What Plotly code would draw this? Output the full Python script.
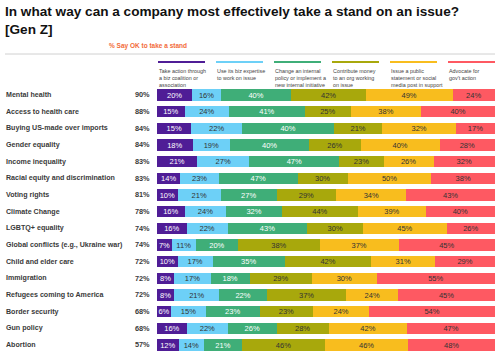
import plotly.graph_objects as go

categories = ["Mental health", "Access to health care", "Buying US-made over imports",
              "Gender equality", "Income inequality", "Racial equity and discrimination",
              "Voting rights", "Climate Change", "LGBTQ+ equality",
              "Global conflicts (e.g., Ukraine war)", "Child and elder care", "Immigration",
              "Refugees coming to America", "Border security", "Gun policy", "Abortion"]
totals = [90, 88, 84, 84, 83, 83, 81, 78, 74, 74, 72, 72, 72, 68, 68, 57]

series_names = ["Take action through<br>a biz coalition or<br>association",
                "Use its biz expertise<br>to work on issue",
                "Change an internal<br>policy or implement a<br>new internal initiative",
                "Contribute money<br>to an org working<br>on issue",
                "Issue a public<br>statement or social<br>media post in support",
                "Advocate for<br>gov't action"]

coalition = [20, 15, 15, 18, 21, 14, 10, 16, 16, 7, 10, 8, 8, 6, 16, 12]
expertise = [16, 24, 22, 19, 27, 23, 21, 24, 22, 11, 17, 17, 21, 15, 22, 14]
internal = [40, 41, 40, 40, 47, 47, 27, 32, 43, 20, 35, 18, 22, 23, 26, 21]
money = [42, 25, 21, 26, 23, 30, 29, 44, 30, 38, 42, 29, 37, 23, 28, 46]
statement = [49, 38, 32, 40, 26, 50, 34, 39, 45, 37, 31, 30, 24, 24, 42, 46]
advocate = [24, 40, 17, 28, 32, 38, 43, 40, 26, 45, 29, 55, 45, 54, 47, 48]

series_values = [coalition, expertise, internal, money, statement, advocate]
colors = ["#4F1D96", "#6DD0F7", "#3FAE78", "#A8A80C", "#F8BD1E", "#FE5962"]
text_colors = ["#FFFFFF", "#333333", "#FFFFFF", "#333333", "#333333", "#333333"]

W, H = 500, 357


def px(x):
    return x / W


def py(y):
    return 1 - y / H


x0, x1 = 157, 495
row0, pitch = 95, 50 / 3.0
n = len(categories)
top = row0 - pitch / 2
bot = row0 + (n - 1) * pitch + pitch / 2

fig = go.Figure()
ys = list(range(n))
for vals, col, tcol, name in zip(series_values, colors, text_colors, series_names):
    fig.add_trace(go.Bar(
        y=ys, x=vals, orientation="h", name=name.replace("<br>", " "),
        marker=dict(color=col, line=dict(width=0)),
        text=[f"{v}%" for v in vals], textposition="inside",
        insidetextanchor="middle", textangle=0, constraintext="none",
        textfont=dict(family="Arial", size=7.5, color=tcol),
        width=0.68, showlegend=False, hoverinfo="skip"))

fig.update_layout(
    width=W, height=H, barmode="stack", barnorm="percent",
    margin=dict(l=0, r=0, t=0, b=0),
    paper_bgcolor="white", plot_bgcolor="white",
    xaxis=dict(domain=[px(x0), px(x1)], range=[0, 100], visible=False, fixedrange=True),
    yaxis=dict(domain=[py(bot), py(top)], range=[n - 0.5, -0.5],
               visible=False, fixedrange=True),
)

ann = []
for i, (c, t) in enumerate(zip(categories, totals)):
    ann.append(dict(x=px(4), xref="paper", y=i, yref="y", text=c, showarrow=False,
                    xanchor="left", yanchor="middle",
                    font=dict(family="Arial", size=7.1, color="#3A3A3A", weight="bold")))
    ann.append(dict(x=px(152), xref="paper", y=i, yref="y", text=f"{t}%", showarrow=False,
                    xanchor="right", yanchor="middle",
                    font=dict(family="Arial", size=7.3, color="#3A3A3A", weight="bold")))

ann.append(dict(x=px(3), xref="paper", y=py(2), yref="paper",
                text="In what way can a company most effectively take a stand on an issue?<br>[Gen Z]",
                showarrow=False, xanchor="left", yanchor="top", align="left",
                font=dict(family="Arial", size=13.6, color="#111111", weight="bold")))
ann.append(dict(x=px(107), xref="paper", y=py(46), yref="paper",
                text="% Say OK to take a stand", showarrow=False, xanchor="left", yanchor="middle",
                font=dict(family="Arial", size=6.5, color="#F26B3A", weight="bold")))

shapes = [dict(type="line", xref="paper", yref="paper", x0=px(5), x1=px(495),
               y0=py(54), y1=py(54), line=dict(color="#D0D0D0", width=1))]
for k, (name, col) in enumerate(zip(series_names, colors)):
    lx0 = 158 + 58 * k
    shapes.append(dict(type="line", xref="paper", yref="paper", x0=px(lx0), x1=px(lx0 + 47),
                       y0=py(62), y1=py(62), line=dict(color=col, width=2.2)))
    ann.append(dict(x=px(lx0 - 1), xref="paper", y=py(66), yref="paper", text=name,
                    showarrow=False, xanchor="left", yanchor="top", align="left",
                    font=dict(family="Arial", size=5.4, color="#444444")))

fig.update_layout(annotations=ann, shapes=shapes)
fig.write_html("out.html",
               config={"displayModeBar": False, "staticPlot": True},
               post_script="document.body.style.margin='0';"
                           "document.body.style.overflow='hidden';"
                           "document.documentElement.style.overflow='hidden';")
